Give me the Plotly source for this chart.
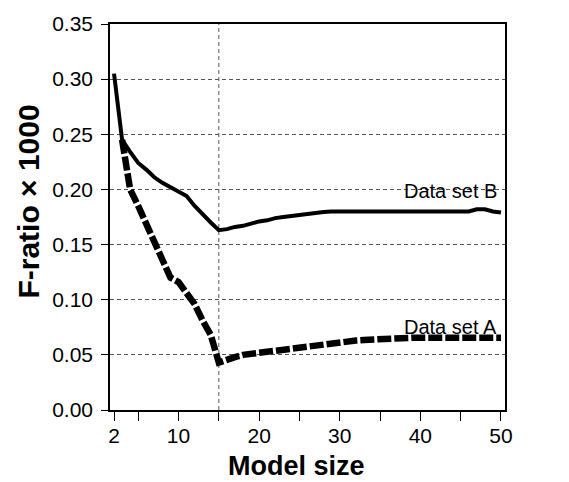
import plotly.graph_objects as go

# Data set B (solid line)
size_b = list(range(2, 51))
fratio_b = [0.305, 0.245, 0.234, 0.224, 0.218, 0.211, 0.206, 0.202, 0.199, 0.194,
            0.185, 0.177, 0.170, 0.163, 0.164, 0.166, 0.167, 0.169, 0.171, 0.172,
            0.174, 0.175, 0.176, 0.177, 0.178, 0.179, 0.1795, 0.18, 0.18, 0.18,
            0.18, 0.18, 0.18, 0.18, 0.18, 0.18, 0.18, 0.18, 0.18, 0.18,
            0.18, 0.18, 0.18, 0.18, 0.18, 0.182, 0.182, 0.180, 0.179]

# Data set A (dashed line)
size_a = list(range(3, 51))
fratio_a = [0.245, 0.200, 0.185, 0.168, 0.153, 0.136, 0.120, 0.116, 0.107, 0.096,
            0.081, 0.068, 0.043, 0.046, 0.048, 0.050, 0.051, 0.052, 0.053, 0.054,
            0.055, 0.056, 0.057, 0.058, 0.059, 0.060, 0.061, 0.062, 0.0625, 0.063,
            0.0635, 0.064, 0.0645, 0.065, 0.065, 0.0655, 0.0655, 0.0655, 0.0655, 0.0655,
            0.0655, 0.0655, 0.0655, 0.0655, 0.0655, 0.0655, 0.0655, 0.0655]

optimal_size = 15
x_tickvals = [2, 5, 10, 15, 20, 25, 30, 35, 40, 45, 50]
x_ticktext = ["2", "", "10", "", "20", "", "30", "", "40", "", "50"]
y_tickvals = [0.0, 0.05, 0.10, 0.15, 0.20, 0.25, 0.30, 0.35]
y_ticktext = ["0.00", "0.05", "0.10", "0.15", "0.20", "0.25", "0.30", "0.35"]

FONT = "Liberation Sans, Arial, sans-serif"

fig = go.Figure()
fig.add_trace(go.Scatter(x=size_b, y=fratio_b, mode="lines",
                         line=dict(color="black", width=4), showlegend=False))
fig.add_trace(go.Scatter(x=size_a, y=fratio_a, mode="lines",
                         line=dict(color="black", width=6.5, dash="14px,3px"), showlegend=False))

fig.add_vline(x=optimal_size, line=dict(color="#555555", width=1, dash="4px,3px"), layer="below")

fig.add_annotation(x=49.8, y=0.1985, text="Data set B", showarrow=False,
                   xanchor="right", yanchor="middle", font=dict(size=20, color="black", family=FONT))
fig.add_annotation(x=49.8, y=0.0755, text="Data set A", showarrow=False,
                   xanchor="right", yanchor="middle", font=dict(size=20, color="black", family=FONT))

fig.add_annotation(x=0.473, y=-0.145, xref="paper", yref="paper", text="<b>Model size</b>",
                   showarrow=False, xanchor="center", yanchor="middle",
                   font=dict(size=27, color="black", family=FONT))
fig.add_annotation(x=-0.205, y=0.54, xref="paper", yref="paper", text="<b>F-ratio × 1000</b>",
                   showarrow=False, xanchor="center", yanchor="middle", textangle=-90,
                   font=dict(size=30, color="black", family=FONT))

fig.update_layout(
    width=569, height=482,
    margin=dict(l=110, r=64, t=17, b=72),
    paper_bgcolor="white", plot_bgcolor="white",
    font=dict(family=FONT, size=21, color="black"),
    xaxis=dict(range=[1.5, 50.5], tickmode="array", tickvals=x_tickvals, ticktext=x_ticktext,
               ticks="outside", ticklen=9, tickcolor="black", tickwidth=1,
               showline=True, linecolor="black", linewidth=1.5, mirror=True,
               showgrid=False, zeroline=False, ticklabelstandoff=-3),
    yaxis=dict(range=[0, 0.35], tickmode="array", tickvals=y_tickvals, ticktext=y_ticktext,
               ticks="outside", ticklen=7, tickcolor="black", tickwidth=1,
               showline=True, linecolor="black", linewidth=1.5, mirror=True,
               showgrid=True, gridcolor="#555555", gridwidth=1, griddash="4px,3px",
               zeroline=False, ticklabelstandoff=4),
)

fig.write_html("out.html")
